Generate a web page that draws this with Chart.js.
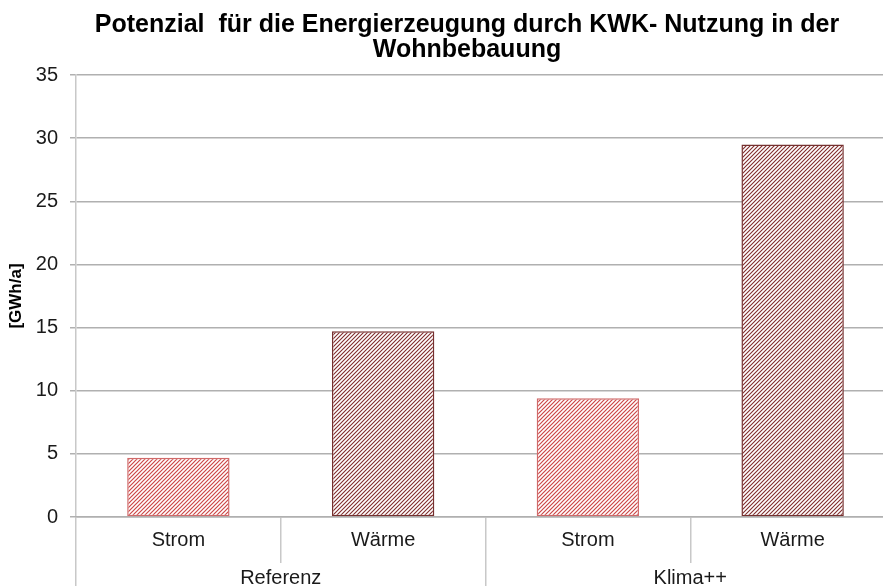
<!DOCTYPE html>
<html>
<head>
<meta charset="utf-8">
<script src="https://cdn.jsdelivr.net/npm/chart.js@4"></script>
<style>
  html, body { margin: 0; padding: 0; background: #fff; overflow: hidden; }
  #wrap { width: 883px; height: 586px; overflow: hidden; position: relative; }
  #box { width: 934px; height: 586px; }
</style>
</head>
<body>
<div id="wrap"><div id="box"><canvas id="kwkChart"></canvas></div></div>
<script>
const categories = ['Strom', 'Wärme', 'Strom', 'Wärme'];
const groups = ['Referenz', 'Klima++'];
const values = [4.7, 14.7, 9.4, 29.5];
const yTicks = [0, 5, 10, 15, 20, 25, 30, 35];

// schraffur wie im original
function hatch(color, lw) {
  const c = document.createElement('canvas');
  c.width = 4; c.height = 4;
  const g = c.getContext('2d');
  g.fillStyle = '#fff';
  g.fillRect(0, 0, 4, 4);
  g.strokeStyle = color;
  g.lineWidth = lw;
  g.beginPath();
  g.moveTo(0, 4); g.lineTo(4, 0);
  g.moveTo(-1, 1); g.lineTo(1, -1);
  g.moveTo(3, 5); g.lineTo(5, 3);
  g.stroke();
  return g.createPattern(c, 'repeat');
}

const stromFill = hatch('rgb(204, 70, 70)', 1.2);
const waermeFill = hatch('rgb(128, 44, 44)', 1.1);

const ctx = document.getElementById('kwkChart');

new Chart(ctx, {
  type: 'bar',
  data: {
    labels: categories,
    datasets: [{
      data: values,
      backgroundColor: [stromFill, waermeFill, stromFill, waermeFill],
      borderColor: ['#d06a6a', '#76302f', '#d06a6a', '#76302f'],
      borderWidth: 1.5,
      borderSkipped: false,
      categoryPercentage: 1,
      barPercentage: 0.5
    }]
  },
  options: {
    responsive: true,
    maintainAspectRatio: false,
    animation: false,
    layout: { padding: 0 },
    plugins: {
      legend: { display: false },
      tooltip: { enabled: false },
      title: {
        display: true,
        text: ['Potenzial  für die Energierzeugung durch KWK- Nutzung in der', 'Wohnbebauung'],
        color: '#000',
        font: { family: 'Liberation Sans, Arial', size: 25, weight: 'bold', lineHeight: 1.0 },
        padding: { top: 13, bottom: 12 }
      }
    },
    scales: {
      y: {
        min: 0,
        max: 35,
        afterBuildTicks: (s) => { s.ticks = yTicks.map(v => ({ value: v })); },
        afterFit: (s) => { s.width = 76; },
        border: { color: '#c8c8c8', width: 1.5 },
        grid: { color: '#b0b0b0', lineWidth: 1.5, tickLength: 6 },
        ticks: { color: '#1a1a1a', padding: 12, font: { family: 'Liberation Sans, Arial', size: 20 } },
        title: {
          display: true,
          text: '[GWh/a]',
          color: '#000',
          padding: { top: 6, bottom: 0 },
          font: { family: 'Liberation Sans, Arial', size: 17, weight: 'bold' }
        }
      },
      // leere achse rechts, nur fuer den platz (titel sitzt wie im original)
      yRight: {
        position: 'right',
        afterFit: (s) => { s.width = 39; },
        border: { display: false },
        grid: { display: false },
        ticks: { display: false }
      },
      x: {
        afterFit: (s) => { s.height = 46; },
        border: { color: '#b0b0b0', width: 1.5 },
        grid: { offset: true, drawOnChartArea: false, color: '#c8c8c8', lineWidth: 1.5, tickLength: 46 },
        ticks: { color: '#1a1a1a', padding: -35, font: { family: 'Liberation Sans, Arial', size: 20 } }
      },
      x2: {
        type: 'category',
        position: 'bottom',
        labels: groups,
        afterFit: (s) => { s.height = 23; },
        border: { display: false },
        grid: { offset: true, drawOnChartArea: false, color: '#c8c8c8', lineWidth: 1.5, tickLength: 23 },
        ticks: { color: '#1a1a1a', padding: -20, font: { family: 'Liberation Sans, Arial', size: 20 } }
      }
    }
  }
});
</script>
</body>
</html>
